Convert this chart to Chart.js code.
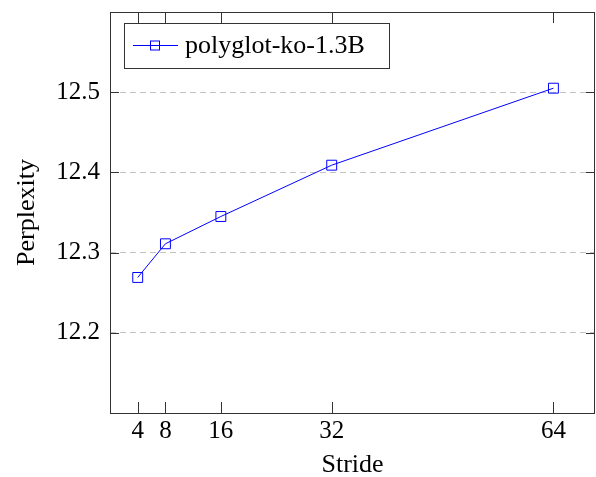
<!DOCTYPE html>
<html>
<head>
<meta charset="utf-8">
<script src="https://cdn.jsdelivr.net/npm/chart.js@4.4.0/dist/chart.umd.min.js"></script>
<style>
  body { margin: 0; background: #fff; }
  #wrap { width: 596px; height: 477px; }
</style>
</head>
<body>
<div id="wrap"><canvas id="chart"></canvas></div>
<script>
// data
var strides = [4, 8, 16, 32, 64];
var perplexity = [12.269, 12.311, 12.345, 12.409, 12.505];
var xTicks = [4, 8, 16, 32, 64];
var yTicks = [12.2, 12.3, 12.4, 12.5];
var seriesName = 'polyglot-ko-1.3B';

var FONT = '"Liberation Serif", "DejaVu Serif", serif';
var BLUE = 'rgb(0,0,255)';
var FRAME = '#333';

// box + inward tick marks like pgfplots
var framePlugin = {
  id: 'frame',
  afterDraw: function (chart) {
    var ctx = chart.ctx, a = chart.chartArea;
    var xs = chart.scales.x, ys = chart.scales.y;
    ctx.save();
    ctx.strokeStyle = FRAME;
    ctx.lineWidth = 1;
    ctx.beginPath();
    xTicks.forEach(function (v) {
      var px = Math.round(xs.getPixelForValue(v)) + 0.5;
      ctx.moveTo(px, a.bottom); ctx.lineTo(px, a.bottom - 11);
      ctx.moveTo(px, a.top); ctx.lineTo(px, a.top + 11);
    });
    yTicks.forEach(function (v) {
      var py = Math.round(ys.getPixelForValue(v)) + 0.5;
      ctx.moveTo(a.left, py); ctx.lineTo(a.left + 9, py);
      ctx.moveTo(a.right, py); ctx.lineTo(a.right - 9, py);
    });
    ctx.stroke();
    ctx.strokeRect(Math.round(a.left) + 0.5, Math.round(a.top) + 0.5,
                   Math.round(a.right - a.left) - 1, Math.round(a.bottom - a.top));
    ctx.restore();
  }
};

// legend with line through the marker
var legendPlugin = {
  id: 'boxLegend',
  afterDraw: function (chart) {
    var ctx = chart.ctx, a = chart.chartArea;
    var bx = a.left + 14, by = a.top + 11, bw = 265, bh = 45;
    var cy = by + bh / 2;
    ctx.save();
    ctx.fillStyle = '#fff';
    ctx.fillRect(bx, by, bw, bh);
    ctx.strokeStyle = FRAME;
    ctx.lineWidth = 1;
    ctx.strokeRect(bx + 0.5, by + 0.5, bw, bh);
    ctx.strokeStyle = BLUE;
    ctx.beginPath();
    ctx.moveTo(bx + 9, cy); ctx.lineTo(bx + 54, cy);
    ctx.stroke();
    ctx.strokeRect(bx + 26.5, cy - 4.5, 9, 9);
    ctx.fillStyle = '#000';
    ctx.font = '26px ' + FONT;
    ctx.textBaseline = 'middle';
    ctx.fillText(seriesName, bx + 61, cy + 1);
    ctx.restore();
  }
};

function noPad(s) {
  s.paddingTop = 0; s.paddingBottom = 0; s.paddingLeft = 0; s.paddingRight = 0;
}

new Chart(document.getElementById('chart'), {
  type: 'line',
  data: {
    datasets: [{
      label: seriesName,
      data: strides.map(function (s, i) { return { x: s, y: perplexity[i] }; }),
      borderColor: BLUE,
      borderWidth: 1,
      backgroundColor: 'rgba(0,0,0,0)',
      pointStyle: 'rect',
      pointRadius: 7,
      pointBorderWidth: 1,
      pointBorderColor: BLUE,
      pointBackgroundColor: 'rgba(0,0,0,0)',
      tension: 0
    }]
  },
  options: {
    responsive: true,
    maintainAspectRatio: false,
    animation: false,
    layout: { autoPadding: false, padding: { top: 12, right: 1, left: 0, bottom: 0 } },
    plugins: { legend: { display: false }, tooltip: { enabled: false } },
    scales: {
      x: {
        type: 'linear',
        min: 0, max: 70,
        afterBuildTicks: function (s) { s.ticks = xTicks.map(function (v) { return { value: v }; }); },
        afterFit: function (s) { s.height = 64; noPad(s); },
        grid: { display: false, drawTicks: false },
        border: { display: false },
        ticks: { color: '#000', font: { family: FONT, size: 25 }, padding: 3, maxRotation: 0 },
        title: { display: true, text: 'Stride', color: '#000', font: { family: FONT, size: 26, lineHeight: 0.9 }, padding: { top: 0, bottom: 0 } }
      },
      y: {
        type: 'linear',
        min: 12.1, max: 12.6,
        afterBuildTicks: function (s) { s.ticks = yTicks.map(function (v) { return { value: v }; }); },
        afterFit: function (s) { s.width = 110; noPad(s); },
        grid: { color: '#c4c4c4', drawTicks: false, tickLength: 0 },
        border: { display: false, dash: [6, 4] },
        ticks: { color: '#000', font: { family: FONT, size: 25 }, padding: 10,
                 callback: function (v) { return v.toFixed(1); } },
        title: { display: true, text: 'Perplexity', color: '#000', font: { family: FONT, size: 26, lineHeight: 0.9 }, padding: { top: 15, bottom: 0 } }
      }
    }
  },
  plugins: [framePlugin, legendPlugin]
});
</script>
</body>
</html>
